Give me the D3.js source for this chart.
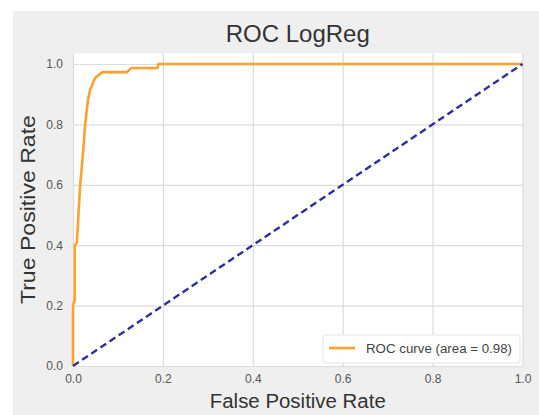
<!DOCTYPE html>
<html><head><meta charset="utf-8">
<script src="https://cdn.jsdelivr.net/npm/d3@7"></script>
<style>html,body{margin:0;padding:0;background:#fff;}svg{display:block;}</style>
</head><body>
<svg id="c" width="539" height="415"></svg>
<script>
const fpr = [0, 0, 0.004, 0.004, 0.009, 0.009, 0.016, 0.022, 0.027, 0.029, 0.033, 0.038, 0.049, 0.065, 0.12, 0.13, 0.188, 0.19, 1];
const tpr = [0, 0.2, 0.22, 0.4, 0.41, 0.42, 0.6, 0.7, 0.8, 0.824, 0.88, 0.914, 0.954, 0.973, 0.973, 0.987, 0.987, 1, 1];
const diagX = [0, 1];
const diagY = [0, 1];
const ticks = [0, 0.2, 0.4, 0.6, 0.8, 1.0];
const title = "ROC LogReg";
const xLabel = "False Positive Rate";
const yLabel = "True Positive Rate";
const legendLabel = "ROC curve (area = 0.98)";

(function () {
const svg = d3.select("#c");
const font = "'Liberation Sans', Arial, sans-serif";
svg.append("rect").attr("x", 13).attr("y", 11).attr("width", 526).attr("height", 404).attr("fill", "#efefef");

const L = 73, R = 522.5, B = 366, T1 = 64;
const x = d3.scaleLinear().domain([0, 1]).range([L, R]);
const y = d3.scaleLinear().domain([0, 1]).range([B, T1]);
const plotTop = y(1.036);

svg.append("rect").attr("x", L).attr("y", plotTop).attr("width", R - L).attr("height", B - plotTop).attr("fill", "#fff");

const gx = svg.append("g").attr("transform", `translate(0,${B})`)
  .call(d3.axisBottom(x).tickValues(ticks).tickFormat(d3.format(".1f")).tickSize(-(B - plotTop)).tickPadding(8));
const gy = svg.append("g").attr("transform", `translate(${L},0)`)
  .call(d3.axisLeft(y).tickValues(ticks).tickFormat(d3.format(".1f")).tickSize(-(R - L)).tickPadding(10));
[gx, gy].forEach(g => {
  g.select(".domain").remove();
  g.selectAll(".tick line").attr("stroke", "#dcdcdc").attr("stroke-width", 1.2);
  g.selectAll(".tick text").attr("fill", "#555").style("font-family", font).style("font-size", "12px");
});

const line = d3.line().x(d => x(d[0])).y(d => y(d[1]));
svg.append("path").datum(fpr.map((f, i) => [f, tpr[i]]))
  .attr("d", line).attr("fill", "none").attr("stroke", "#ffa030").attr("stroke-width", 2.6).attr("stroke-linejoin", "round");
svg.append("path").datum(diagX.map((f, i) => [f, diagY[i]]))
  .attr("d", line).attr("fill", "none").attr("stroke", "#2e2ea0").attr("stroke-width", 2.4).attr("stroke-dasharray", "7,4");

svg.append("text").attr("x", (L + R) / 2).attr("y", 42).attr("text-anchor", "middle")
  .style("font-family", font).style("font-size", "24px").attr("fill", "#333").text(title);
svg.append("text").attr("x", (L + R) / 2).attr("y", 408).attr("text-anchor", "middle")
  .attr("textLength", 176).attr("lengthAdjust", "spacingAndGlyphs")
  .style("font-family", font).style("font-size", "20px").attr("fill", "#333").text(xLabel);
svg.append("text").attr("transform", `translate(35,${(plotTop + B) / 2}) rotate(-90)`).attr("text-anchor", "middle")
  .attr("textLength", 189).attr("lengthAdjust", "spacingAndGlyphs")
  .style("font-family", font).style("font-size", "20px").attr("fill", "#333").text(yLabel);

const lg = svg.append("g");
lg.append("rect").attr("x", 323).attr("y", 335).attr("width", 197).attr("height", 28).attr("rx", 3)
  .attr("fill", "#fff").attr("fill-opacity", 0.9).attr("stroke", "#e3e3e3");
lg.append("line").attr("x1", 329).attr("x2", 355).attr("y1", 348).attr("y2", 348)
  .attr("stroke", "#ffa030").attr("stroke-width", 2.6);
lg.append("text").attr("x", 366).attr("y", 352.5).attr("textLength", 146).attr("lengthAdjust", "spacingAndGlyphs")
  .style("font-family", font).style("font-size", "12px").attr("fill", "#444").text(legendLabel);
})();
</script>
</body></html>
